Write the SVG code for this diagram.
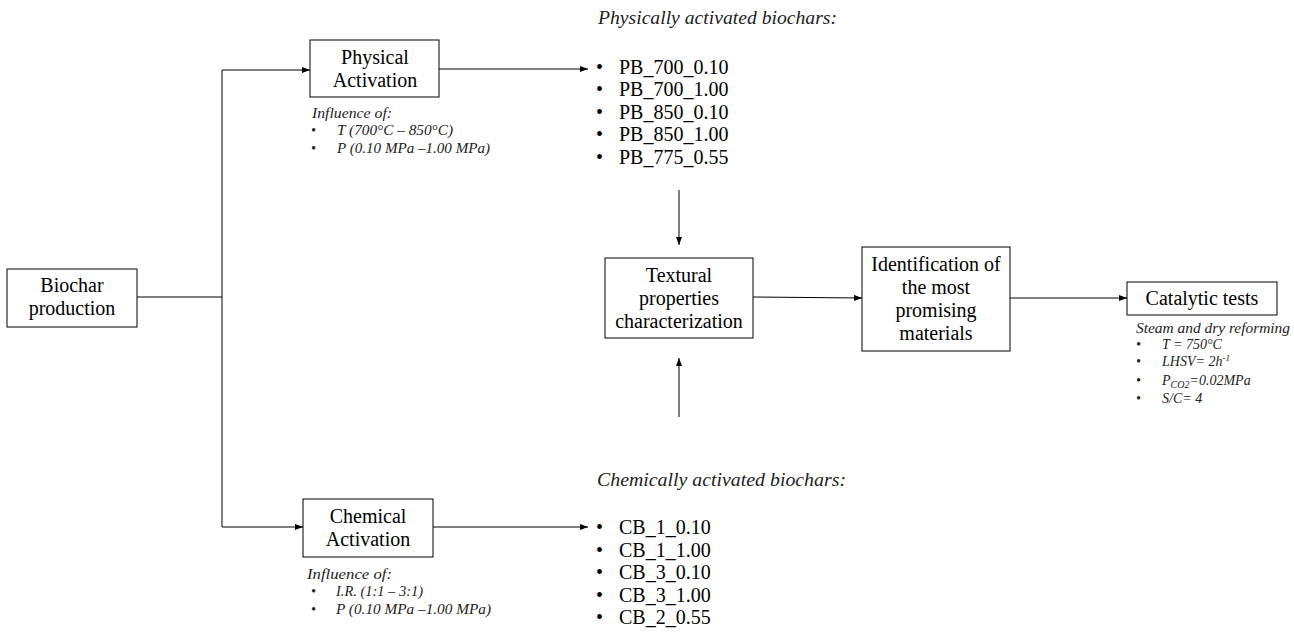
<svg xmlns="http://www.w3.org/2000/svg" width="1294" height="632" viewBox="0 0 1294 632">
<defs>
<marker id="ah" markerWidth="8" markerHeight="6" refX="8" refY="3" orient="auto" markerUnits="userSpaceOnUse">
<path d="M0,0 L8,3 L0,6 Z" fill="#000"/>
</marker>
<style>
.box{fill:#fff;stroke:#000;stroke-width:1}
.t{font-family:"Liberation Serif","Times New Roman",serif;font-size:20px;fill:#000}
.c{text-anchor:middle}
.it{font-family:"Liberation Serif","Times New Roman",serif;font-style:italic;fill:#222}
.s{font-size:14px}
.h{font-size:19px}
.ln{fill:none;stroke:#000;stroke-width:1}
.ar{fill:none;stroke:#000;stroke-width:1;marker-end:url(#ah)}
</style>
</defs>
<rect width="1294" height="632" fill="#fff"/>

<g id="connectors">
<path class="ln" d="M137,297 H222"/>
<path class="ln" d="M222,70 V527"/>
<path class="ar" d="M222,70 H310"/>
<path class="ar" d="M222,527 H303"/>
<path class="ar" d="M439,69 H588"/>
<path class="ar" d="M433,527 H588"/>
<path class="ar" d="M679,190 V245"/>
<path class="ar" d="M679,417 V358"/>
<path class="ar" d="M753,297 L862,298"/>
<path class="ar" d="M1010,298 H1127"/>
</g>

<g id="biochar">
<rect class="box" x="7" y="269" width="130" height="58"/>
<text class="t c" x="72" y="292">Biochar</text>
<text class="t c" x="72" y="315">production</text>
</g>

<g id="physical">
<rect class="box" x="310" y="40" width="129" height="57"/>
<text class="t c" x="375" y="64">Physical</text>
<text class="t c" x="375" y="87">Activation</text>
<text class="it s" x="312" y="118" textLength="80" lengthAdjust="spacingAndGlyphs">Influence of:</text>
<text class="it s" x="311" y="135">•</text>
<text class="it s" x="337" y="135" textLength="116" lengthAdjust="spacingAndGlyphs">T (700°C – 850°C)</text>
<text class="it s" x="311" y="153">•</text>
<text class="it s" x="337" y="153" textLength="153" lengthAdjust="spacingAndGlyphs">P (0.10 MPa –1.00 MPa)</text>
</g>

<g id="chemical">
<rect class="box" x="303" y="499" width="130" height="58"/>
<text class="t c" x="368" y="523">Chemical</text>
<text class="t c" x="368" y="546">Activation</text>
<text class="it s" x="307" y="579" textLength="85" lengthAdjust="spacingAndGlyphs">Influence of:</text>
<text class="it s" x="311" y="596">•</text>
<text class="it s" x="336" y="596" textLength="87" lengthAdjust="spacingAndGlyphs">I.R. (1:1 – 3:1)</text>
<text class="it s" x="311" y="614">•</text>
<text class="it s" x="336" y="614" textLength="155" lengthAdjust="spacingAndGlyphs">P (0.10 MPa –1.00 MPa)</text>
</g>

<g id="physical-list">
<text class="it h" x="598" y="24" textLength="239" lengthAdjust="spacingAndGlyphs">Physically activated biochars:</text>
<text class="t" x="596" y="74">•</text><text class="t" x="619" y="74">PB_700_0.10</text>
<text class="t" x="596" y="96">•</text><text class="t" x="619" y="96">PB_700_1.00</text>
<text class="t" x="596" y="119">•</text><text class="t" x="619" y="119">PB_850_0.10</text>
<text class="t" x="596" y="141">•</text><text class="t" x="619" y="141">PB_850_1.00</text>
<text class="t" x="596" y="164">•</text><text class="t" x="619" y="164">PB_775_0.55</text>
</g>

<g id="chemical-list">
<text class="it h" x="597" y="486" textLength="249" lengthAdjust="spacingAndGlyphs">Chemically activated biochars:</text>
<text class="t" x="596" y="534">•</text><text class="t" x="619" y="534">CB_1_0.10</text>
<text class="t" x="596" y="557">•</text><text class="t" x="619" y="557">CB_1_1.00</text>
<text class="t" x="596" y="579">•</text><text class="t" x="619" y="579">CB_3_0.10</text>
<text class="t" x="596" y="602">•</text><text class="t" x="619" y="602">CB_3_1.00</text>
<text class="t" x="596" y="624">•</text><text class="t" x="619" y="624">CB_2_0.55</text>
</g>

<g id="textural">
<rect class="box" x="605" y="258" width="148" height="80"/>
<text class="t c" x="679" y="282">Textural</text>
<text class="t c" x="679" y="305">properties</text>
<text class="t c" x="679" y="328">characterization</text>
</g>

<g id="identification">
<rect class="box" x="862" y="247" width="148" height="104"/>
<text class="t c" x="936" y="271">Identification of</text>
<text class="t c" x="936" y="294">the most</text>
<text class="t c" x="936" y="317">promising</text>
<text class="t c" x="936" y="340">materials</text>
</g>

<g id="catalytic">
<rect class="box" x="1127" y="282" width="150" height="33"/>
<text class="t c" x="1202" y="305">Catalytic tests</text>
<text class="it s" x="1136" y="333" textLength="154" lengthAdjust="spacingAndGlyphs">Steam and dry reforming</text>
<text class="it s" x="1136" y="349">•</text>
<text class="it s" x="1162" y="349">T = 750°C</text>
<text class="it s" x="1136" y="366">•</text>
<text class="it s" x="1162" y="366">LHSV= 2h<tspan font-size="9" dy="-5">-1</tspan></text>
<text class="it s" x="1136" y="385">•</text>
<text class="it s" x="1162" y="385">P<tspan font-size="10" dy="3">CO2</tspan><tspan dy="-3">=0.02MPa</tspan></text>
<text class="it s" x="1136" y="403">•</text>
<text class="it s" x="1162" y="403">S/C= 4</text>
</g>
</svg>
